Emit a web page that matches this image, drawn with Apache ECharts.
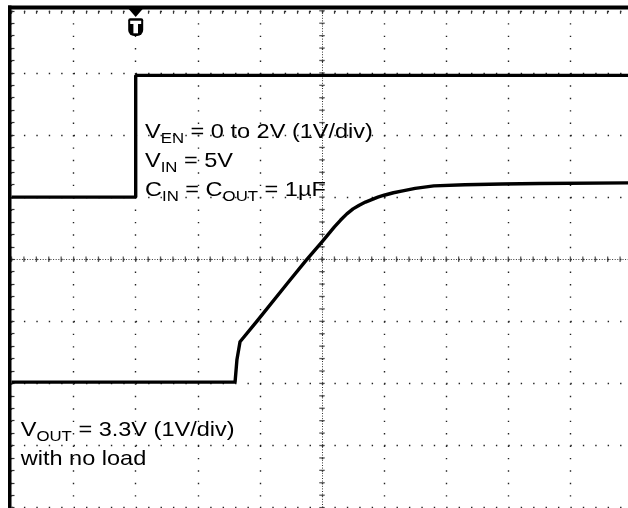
<!DOCTYPE html>
<html><head><meta charset="utf-8">
<script src="https://cdn.jsdelivr.net/npm/echarts@6/dist/echarts.min.js"></script>
<style>html,body{margin:0;padding:0;background:#fff}#c{width:628px;height:508px}</style>
</head><body><div id="c"></div>
<script>
// Time axis in divisions (10 div), vertical in divisions (8 div, centre = 0)
const EN_TIME  = [0, 2, 2, 10];
const EN_LEVEL = [1.0, 1.0, 2.96, 2.96];

const VOUT_TIME  = [0, 3.60, 3.63, 3.68, 3.95, 4.45, 4.75, 5.00, 5.10, 5.20, 5.30, 5.40, 5.50, 5.60, 5.70, 5.80, 5.90, 6.00, 6.15, 6.30, 6.50, 6.80, 7.30, 7.90, 8.50, 10];
const VOUT_LEVEL = [-1.98, -1.98, -1.62, -1.33, -1.00, -0.38, -0.01, 0.28, 0.40, 0.52, 0.63, 0.73, 0.81, 0.87, 0.92, 0.96, 1.00, 1.03, 1.07, 1.10, 1.14, 1.18, 1.20, 1.21, 1.22, 1.23];

const TRIGGER_TIME = 2;

const NOTE_TOP = [
  '{m|V}{s|EN}{m| = 0 to 2V (1V/div)}',
  '{m|V}{s|IN}{m| = 5V}',
  '{m|C}{s|IN}{m| = C}{s|OUT}{m| = 1µF}'
];
const NOTE_BOTTOM = [
  '{m|V}{s|OUT}{m| = 3.3V (1V/div)}',
  '{m|with no load}'
];

const FONT = "'Liberation Sans', Arial, Helvetica, sans-serif";
const zip = (a, b) => a.map((v, i) => [v, b[i]]);

const hTicks = [], vTicks = [];
for (let k = 0; k <= 50; k++) hTicks.push([k / 5, 0]);
for (let k = -20; k <= 20; k++) vTicks.push([5, k / 5]);

const dotLine = { color: '#222', width: 1.4, type: [1.4, 11.02] };

const option = {
  animation: false,
  backgroundColor: '#fff',
  grid: { left: 11.5, top: 10.8, width: 621, height: 496.8, containLabel: false, outerBoundsMode: 'none' },
  xAxis: {
    type: 'value', min: 0, max: 10, interval: 1, position: 'top',
    axisLine: { show: false, onZero: false },
    axisLabel: { show: false },
    axisTick: { show: true, inside: true, length: 3, lineStyle: { color: '#333', width: 1.2 } },
    minorTick: { show: true, splitNumber: 5, length: 3, lineStyle: { color: '#333', width: 1.2 } },
    splitLine: { show: true, lineStyle: dotLine }
  },
  yAxis: {
    type: 'value', min: -4, max: 4, interval: 1, position: 'left',
    axisLine: { show: false, onZero: false },
    axisLabel: { show: false },
    axisTick: { show: true, inside: true, length: 3, lineStyle: { color: '#333', width: 1.2 } },
    minorTick: { show: true, splitNumber: 5, length: 3, lineStyle: { color: '#333', width: 1.2 } },
    splitLine: { show: true, lineStyle: dotLine }
  },
  series: [
    {
      type: 'scatter', silent: true, symbol: 'rect', symbolSize: [1.3, 5.5],
      itemStyle: { color: '#333' }, data: hTicks, z: 1,
      markLine: {
        silent: true, symbol: 'none', label: { show: false },
        lineStyle: { color: '#333', width: 1, type: [1, 1.6] },
        data: [{ yAxis: 0 }, { xAxis: 5 }]
      }
    },
    {
      type: 'scatter', silent: true, symbol: 'rect', symbolSize: [5.5, 1.3],
      itemStyle: { color: '#333' }, data: vTicks, z: 1
    },
    {
      type: 'line', data: zip(EN_TIME, EN_LEVEL), showSymbol: false, symbol: 'none',
      lineStyle: { color: '#000', width: 3.4 }, z: 5
    },
    {
      type: 'line', data: zip(VOUT_TIME, VOUT_LEVEL), showSymbol: false, symbol: 'none',
      lineStyle: { color: '#000', width: 3.4, join: 'round' }, z: 5
    }
  ]
};

const chart = echarts.init(document.getElementById('c'));
chart.setOption(option);

const tp = chart.convertToPixel({ gridIndex: 0 }, [TRIGGER_TIME, 4]);
const gl = chart.convertToPixel({ gridIndex: 0 }, [0, 4]);
const tx = tp[0];

const richStyles = {
  m: { fontSize: 21, fontFamily: FONT, lineHeight: 29, fill: '#000' },
  s: { fontSize: 15, fontFamily: FONT, verticalAlign: 'bottom', fill: '#000' }
};

chart.setOption({
  graphic: [
    { type: 'rect', z: 100, shape: { x: gl[0] - 3.5, y: gl[1] - 5.3, width: 3.5, height: 520 }, style: { fill: '#000' } },
    { type: 'rect', z: 100, shape: { x: gl[0] - 3.5, y: gl[1] - 5.3, width: 640, height: 4 }, style: { fill: '#000' } },
    { type: 'polygon', z: 100, shape: { points: [[tx - 7, 9], [tx + 7, 9], [tx, 17]] }, style: { fill: '#000' } },
    { type: 'rect', z: 100, shape: { x: tx - 7.5, y: 18.3, width: 15, height: 17.7, r: [2, 2, 6, 6] }, style: { fill: '#000' } },
    { type: 'rect', z: 101, shape: { x: tx - 5.5, y: 20.7, width: 11, height: 3.3 }, style: { fill: '#fff' } },
    { type: 'rect', z: 101, shape: { x: tx - 2.3, y: 23.5, width: 4.6, height: 9.8 }, style: { fill: '#fff' } },
    {
      type: 'text', z: 110, x: 145, y: 117.8, scaleX: 1.12,
      style: { text: NOTE_TOP.join('\n'), rich: richStyles, verticalAlign: 'top', align: 'left', fill: '#000', font: '21px ' + FONT }
    },
    {
      type: 'text', z: 110, x: 20.7, y: 415.8, scaleX: 1.12,
      style: { text: NOTE_BOTTOM.join('\n'), rich: richStyles, verticalAlign: 'top', align: 'left', fill: '#000', font: '21px ' + FONT }
    }
  ]
});
</script>
</body></html>
